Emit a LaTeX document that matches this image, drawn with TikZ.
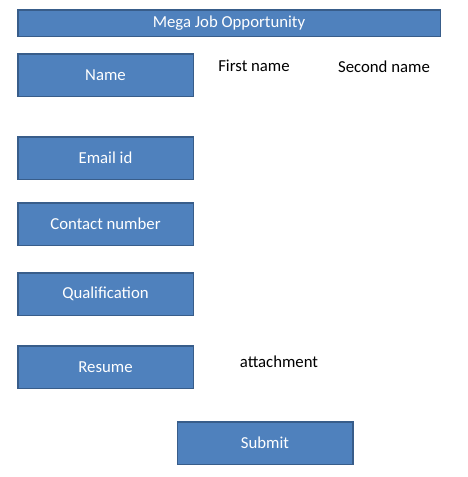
\documentclass[tikz,border=0pt]{standalone}
\usepackage{fontspec}
\setmainfont{Carlito}
\usepackage{tikz}
\usetikzlibrary{positioning}
\definecolor{boxfill}{HTML}{4F81BD}
\definecolor{boxline}{HTML}{385D8A}

\begin{document}
\begin{tikzpicture}[x=1pt,y=-1pt,node distance=22pt,
		field node/.style={rectangle,draw=boxline,fill=boxfill,line width=1.5pt,text=white,minimum width=175.5pt,minimum height=42.5pt,inner sep=0pt,font=\fontsize{16.75}{20}\selectfont},
		text node/.style={font=\fontsize{16.75}{20}\selectfont,inner sep=0pt}]

		\useasboundingbox (0,0) rectangle (468,477);

		\node[field node,minimum width=422.5pt,minimum height=26.5pt] (title) at (229,23) {Mega Job Opportunity};
		\node[field node] (name) at (105.5,75) {Name};
		\node[field node] (email) [below=39pt of name] {Email id};
		\node[field node] (contact) [below=22pt of email] {Contact number};
		\node[field node] (qual) [below=26pt of contact] {Qualification};
		\node[field node] (resume) [below=29pt of qual] {Resume};
		\node[field node] (submit) [below=32pt of resume,xshift=159.5pt] {Submit};

		\node[text node] (first) at (254,66) {First name};
		\node[text node] (second) at (384,67) {Second name};
		\node[text node] (attach) at (279,362) {attachment};
	\end{tikzpicture}
\end{document}
